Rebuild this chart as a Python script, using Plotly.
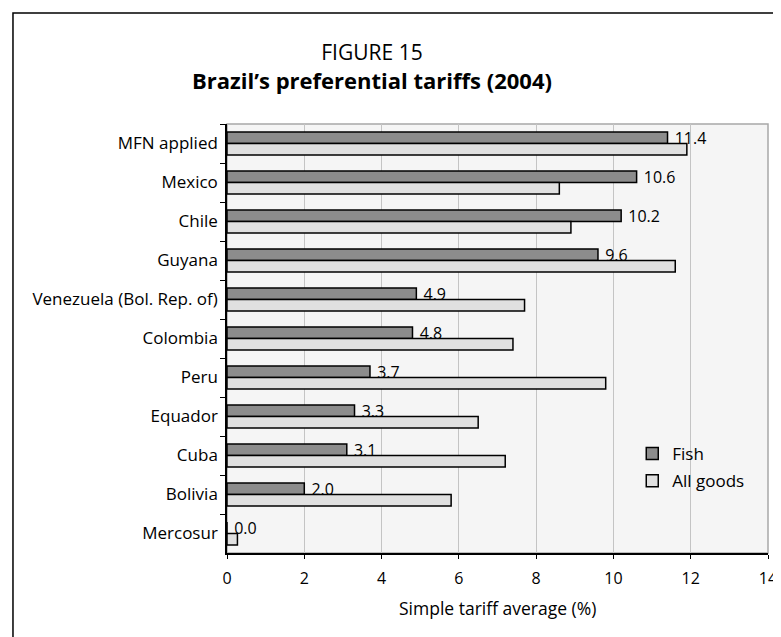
import plotly.graph_objects as go

categories = ["MFN applied", "Mexico", "Chile", "Guyana", "Venezuela (Bol. Rep. of)",
              "Colombia", "Peru", "Equador", "Cuba", "Bolivia", "Mercosur"]
fish = [11.4, 10.6, 10.2, 9.6, 4.9, 4.8, 3.7, 3.3, 3.1, 2.0, 0.0]
all_goods = [11.9, 8.6, 8.9, 11.6, 7.7, 7.4, 9.8, 6.5, 7.2, 5.8, 0.27]
x_ticks = [0, 2, 4, 6, 8, 10, 12, 14]

FONT = "Open Sans"
OFF = 8  # page body margin
W, H = 781, 637
# plot area in window pixels: x 227..773, y 124..553
L, T = 227 - OFF, 124 - OFF
R, B = W - (773 - OFF), H - (553 - OFF)
PW, PH = W - L - R, H - T - B


def px(xw):
    return (xw - OFF - L) / PW


def py(yw):
    return (H - B - (yw - OFF)) / PH


fig = go.Figure()
fig.add_trace(go.Bar(
    y=categories, x=fish, orientation="h", name="Fish",
    marker=dict(color="#8c8c8c", line=dict(color="black", width=1.5)),
    text=[f"\u00a0{v:.1f}" for v in fish], textposition="outside",
    textfont=dict(family=FONT, size=16, color="black"),
    constraintext="none", cliponaxis=False, legendgroup="a",
))
fig.add_trace(go.Bar(
    y=categories, x=all_goods, orientation="h", name="All goods",
    marker=dict(color="#e0e0e0", line=dict(color="black", width=1.5)),
    legendgroup="b",
))

fig.update_layout(
    width=W, height=H,
    margin=dict(l=L, r=R, t=T, b=B, pad=0),
    paper_bgcolor="white", plot_bgcolor="#f5f5f5",
    barmode="group", bargap=0.41, bargroupgap=0,
    font=dict(family=FONT, size=17, color="black"),
    showlegend=True,
    legend=dict(x=px(636), y=py(436), xanchor="left", yanchor="top",
                bgcolor="rgba(0,0,0,0)", font=dict(family=FONT, size=17),
                traceorder="grouped", tracegroupgap=2),
    xaxis=dict(range=[0, 14], tickvals=x_ticks, ticks="outside", ticklen=4,
               tickcolor="black", tickwidth=1, showline=True, linecolor="black",
               linewidth=1.5, showgrid=True, gridcolor="#c4c4c4", gridwidth=1,
               zeroline=False, tickfont=dict(family=FONT, size=16),
               ticklabelstandoff=6, fixedrange=True),
    yaxis=dict(categoryorder="array", categoryarray=categories, autorange="reversed",
               ticks="outside", tickson="boundaries", ticklen=5, tickcolor="black",
               tickwidth=1, showline=True, linecolor="black", linewidth=1.5,
               showgrid=False, tickfont=dict(family=FONT, size=17),
               ticklabelstandoff=4, fixedrange=True),
    annotations=[
        dict(text="<span style='font-size:21px'>FIGURE 15</span><br>"
                  "<b>Brazil’s preferential tariffs (2004)</b>",
             x=px(373), y=py(67), xref="paper", yref="paper",
             xanchor="center", yanchor="middle", align="center", showarrow=False,
             font=dict(family=FONT, size=22, color="black")),
        dict(text="Simple tariff average (%)", x=px(500), y=py(608), xref="paper",
             yref="paper", xanchor="center", yanchor="middle", showarrow=False,
             font=dict(family=FONT, size=17.5, color="black")),
    ],
    shapes=[
        dict(type="rect", xref="paper", yref="paper", x0=0, x1=1, y0=0, y1=1,
             line=dict(color="#a8a8a8", width=1.5), layer="below"),
        dict(type="rect", xref="paper", yref="paper", x0=px(11), x1=px(800),
             y0=py(660), y1=py(13), line=dict(color="black", width=1.5),
             layer="above"),
    ],
)

fig.write_html("out.html")
